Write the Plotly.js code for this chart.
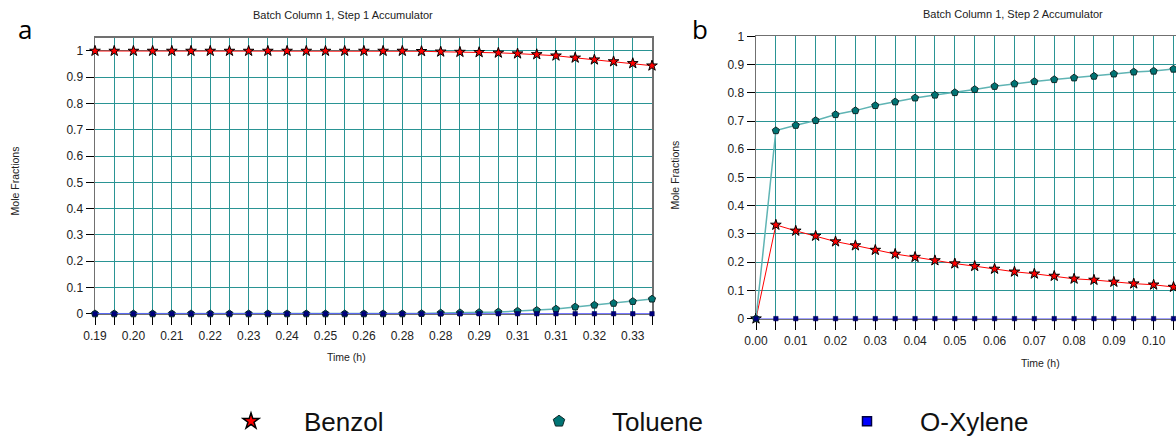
<!DOCTYPE html>
<html>
<head>
<meta charset="utf-8">
<script src="https://cdn.plot.ly/plotly-3.0.1.min.js"></script>
<style>html,body{margin:0;padding:0;background:#fff;}#chart{width:1176px;height:445px;}</style>
</head>
<body>
<div id="chart"></div>
<script>
// ---------- data ----------
const seriesNames = ["Benzol", "Toluene", "O-Xylene"];

// Panel a: Batch Column 1, Step 1 Accumulator
const timeA = [0.190,0.195,0.200,0.205,0.210,0.215,0.220,0.225,0.230,0.235,
               0.240,0.245,0.250,0.255,0.260,0.265,0.270,0.275,0.280,0.285,
               0.290,0.295,0.300,0.305,0.310,0.315,0.320,0.325,0.330,0.335];
const benzolA = [1,1,1,1,1,1,1,1,1,1,
                 1,1,1,1,1,1,1,0.999,0.997,0.996,
                 0.995,0.993,0.990,0.987,0.982,0.974,0.967,0.960,0.953,0.944];
const tolueneA = [0,0,0,0,0,0,0,0,0,0,
                  0,0,0,0,0,0,0,0.001,0.003,0.004,
                  0.005,0.007,0.010,0.013,0.018,0.026,0.033,0.040,0.047,0.056];
const xyleneA = [0,0,0,0,0,0,0,0,0,0,
                 0,0,0,0,0,0,0,0,0,0,
                 0,0,0,0,0,0,0,0,0,0];
const tickValsA = [0.19,0.20,0.21,0.22,0.23,0.24,0.25,0.26,0.27,0.28,0.29,0.30,0.31,0.32,0.33];
const tickTextA = ["0.19","0.20","0.21","0.22","0.23","0.24","0.25","0.26","0.28","0.28","0.29","0.31","0.31","0.32","0.33"];

// Panel b: Batch Column 1, Step 2 Accumulator
const timeB = [0.000,0.005,0.010,0.015,0.020,0.025,0.030,0.035,0.040,0.045,0.050,
               0.055,0.060,0.065,0.070,0.075,0.080,0.085,0.090,0.095,0.100,0.105];
const benzolB = [0,0.332,0.311,0.293,0.273,0.259,0.243,0.229,0.218,0.206,0.195,
                 0.186,0.176,0.166,0.159,0.151,0.141,0.137,0.130,0.124,0.120,0.112];
const tolueneB = [0,0.666,0.685,0.702,0.723,0.737,0.755,0.768,0.782,0.792,0.801,
                  0.812,0.823,0.832,0.840,0.847,0.853,0.859,0.867,0.874,0.877,0.884];
const xyleneB = [0,0,0,0,0,0,0,0,0,0,0,
                 0,0,0,0,0,0,0,0,0,0,0];

// ---------- styles ----------
const W = 1176, H = 445;
const px = v => v / W;
const py = v => 1 - v / H;
const sans = "Liberation Sans, Arial, sans-serif";
const gridCol = "#2a9494";

const sty = {
  Benzol:  {line: {color: "#ff0000", width: 1},
            marker: {symbol: "star", size: 8, color: "#ff0000", line: {color: "#000", width: 1}}},
  Toluene: {line: {color: "#5fb4b4", width: 1.5},
            marker: {symbol: "pentagon", size: 7.5, color: "#007474", line: {color: "#102828", width: 1}}},
  "O-Xylene": {line: {color: "#4a4aff", width: 1.5},
            marker: {symbol: "square", size: 4.5, color: "#000080", line: {color: "#000040", width: 0.5}}}
};

function trace(x, y, name, xa, ya) {
  return {x: x, y: y, name: name, type: "scatter", mode: "lines+markers",
          xaxis: xa, yaxis: ya, showlegend: false, cliponaxis: false,
          line: sty[name].line, marker: sty[name].marker};
}

const traces = [
  trace(timeA, benzolA, "Benzol", "x", "y"),
  trace(timeA, tolueneA, "Toluene", "x", "y"),
  trace(timeA, xyleneA, "O-Xylene", "x", "y"),
  trace(timeB, benzolB, "Benzol", "x2", "y2"),
  trace(timeB, tolueneB, "Toluene", "x2", "y2"),
  trace(timeB, xyleneB, "O-Xylene", "x2", "y2")
];
// legend entries (markers only)
const legMarkers = {
  Benzol: {symbol: "star", size: 12, color: "#ff0000", line: {color: "#000", width: 1.5}},
  Toluene: {symbol: "pentagon", size: 12, color: "#007474", line: {color: "#102828", width: 1}},
  "O-Xylene": {symbol: "square", size: 9, color: "#0000ff", line: {color: "#000040", width: 1.5}}
};
seriesNames.forEach(n => traces.push({
  x: [null], y: [null], name: n, type: "scatter", mode: "markers",
  marker: legMarkers[n], showlegend: true, xaxis: "x", yaxis: "y"
}));

const tickFont = {family: sans, size: 12, color: "#222"};
function yaxis(domain, range) {
  return {domain: domain, range: range, tickmode: "linear", tick0: 0, dtick: 0.1,
          ticks: "outside", ticklen: 8, tickcolor: "#000", tickfont: tickFont,
          showgrid: true, gridcolor: gridCol, gridwidth: 1, zeroline: false, layer: "below traces",
          showline: true, linecolor: "#707070", linewidth: 1.5, mirror: true, fixedrange: true};
}
function xaxisBase(domain, range, anchor) {
  return {domain: domain, range: range, anchor: anchor,
          ticks: "outside", ticklen: 10, tickcolor: "#000", tickfont: tickFont,
          showgrid: true, gridcolor: gridCol, gridwidth: 1, zeroline: false, layer: "below traces",
          showline: true, linecolor: "#707070", linewidth: 1.5, mirror: true, fixedrange: true};
}

const xA = xaxisBase([px(95), px(652)], [0.19, 0.335], "y");
xA.tickmode = "array"; xA.tickvals = tickValsA; xA.ticktext = tickTextA;
xA.minor = {tickmode: "linear", tick0: 0.195, dtick: 0.01, ticks: "outside", ticklen: 10,
            tickcolor: "#000", showgrid: true, gridcolor: gridCol, gridwidth: 1};

const xB = xaxisBase([px(756), px(1175.5)], [0, 0.1055], "y2");
xB.tickmode = "linear"; xB.tick0 = 0; xB.dtick = 0.01; xB.tickformat = ".2f";
xB.minor = {tickmode: "linear", tick0: 0.005, dtick: 0.01, ticks: "outside", ticklen: 10,
            tickcolor: "#000", showgrid: true, gridcolor: gridCol, gridwidth: 1};

const yA = yaxis([py(321.7), py(38.8)], [0, 1.05]); yA.anchor = "x";
const yB = yaxis([py(326.7), py(37.3)], [0, 1]); yB.anchor = "x2";

function ann(text, x, y, size, family, angle, color) {
  return {text: text, x: px(x), y: py(y), xref: "paper", yref: "paper",
          xanchor: "center", yanchor: "middle", showarrow: false, textangle: angle || 0,
          font: {size: size, family: family, color: color || "#222"}};
}

const layout = {
  width: W, height: H, margin: {l: 0, r: 0, t: 0, b: 0},
  paper_bgcolor: "#fff", plot_bgcolor: "#fff",
  xaxis: xA, yaxis: yA, xaxis2: xB, yaxis2: yB,
  showlegend: true,
  legend: {orientation: "h", x: px(198), xanchor: "left", y: py(432), yanchor: "middle",
           itemwidth: 96, entrywidth: 197, entrywidthmode: "pixels",
           font: {family: sans, size: 26, color: "#111"}, bgcolor: "rgba(0,0,0,0)"},
  annotations: [
    ann("Batch Column 1, Step 1 Accumulator", 343, 15, 11, sans),
    ann("Batch Column 1, Step 2 Accumulator", 1013, 14, 11, sans),
    ann("Mole Fractions", 15, 186, 10.5, sans, -90),
    ann("Mole Fractions", 675, 180, 10.5, sans, -90),
    ann("Time (h)", 346, 366, 10.5, sans),
    ann("Time (h)", 1040, 372, 10.5, sans),
    ann("a", 25, 30, 26, "Open Sans, sans-serif", 0, "#000"),
    ann("b", 700, 30, 26, "Open Sans, sans-serif", 0, "#000")
  ]
};

Plotly.newPlot("chart", traces, layout, {staticPlot: true, displayModeBar: false});
</script>
</body>
</html>
